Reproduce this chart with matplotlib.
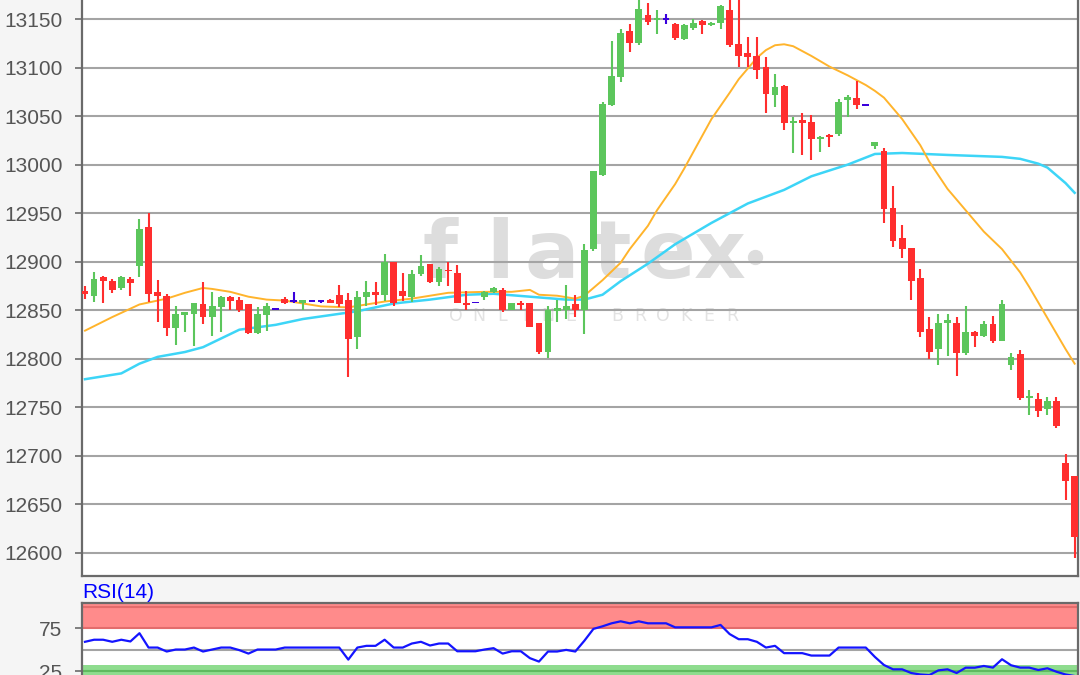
import matplotlib.pyplot as plt
import numpy as np

# candles, oldest first
opens = [12870, 12865, 12884, 12880, 12873, 12882, 12896, 12936, 12869, 12865,
         12832, 12845, 12846, 12856, 12843, 12853, 12864, 12861, 12856, 12827,
         12845, 12851, 12862, 12860, 12858, 12860, 12860, 12861, 12866, 12861,
         12822, 12864, 12869, 12866, 12900, 12870, 12864, 12887, 12898, 12879,
         12892, 12888, 12858, 12858, 12864, 12869, 12871, 12850, 12858, 12857,
         12837, 12807, 12849, 12850, 12856, 12850, 12913, 12989, 13061, 13090,
         13138, 13125, 13154, 13150, 13150, 13145, 13129, 13141, 13148, 13144,
         13146, 13159, 13124, 13115, 13112, 13101, 13072, 13081, 13043, 13046,
         13044, 13026, 13031, 13032, 13067, 13069, 13061, 13019, 13014, 12955,
         12924, 12914, 12883, 12831, 12810, 12837, 12837, 12806, 12828, 12824,
         12836, 12818, 12794, 12805, 12760, 12759, 12748, 12757, 12693, 12679]
highs = [12875, 12889, 12885, 12882, 12885, 12884, 12944, 12950, 12881, 12867,
         12854, 12848, 12857, 12879, 12869, 12865, 12865, 12864, 12856, 12853,
         12857, 12851, 12864, 12869, 12861, 12860, 12861, 12862, 12876, 12868,
         12870, 12880, 12879, 12908, 12900, 12888, 12892, 12907, 12898, 12895,
         12900, 12897, 12870, 12858, 12870, 12874, 12873, 12857, 12860, 12858,
         12837, 12854, 12861, 12876, 12866, 12918, 12993, 13065, 13127, 13140,
         13145, 13172, 13166, 13159, 13155, 13146, 13145, 13150, 13149, 13147,
         13164, 13172, 13172, 13132, 13132, 13111, 13093, 13082, 13049, 13053,
         13051, 13030, 13032, 13068, 13072, 13086, 13061, 13023, 13017, 12978,
         12938, 12914, 12893, 12843, 12846, 12846, 12843, 12854, 12829, 12839,
         12844, 12861, 12806, 12809, 12768, 12765, 12761, 12761, 12702, 12679]
lows = [12862, 12859, 12857, 12868, 12871, 12865, 12884, 12859, 12838, 12823,
        12814, 12828, 12813, 12836, 12824, 12828, 12850, 12848, 12826, 12826,
        12829, 12851, 12856, 12857, 12850, 12860, 12858, 12857, 12853, 12781,
        12810, 12854, 12855, 12860, 12854, 12860, 12859, 12885, 12878, 12875,
        12875, 12857, 12850, 12858, 12861, 12868, 12848, 12850, 12850, 12833,
        12805, 12801, 12838, 12841, 12843, 12826, 12911, 12988, 13060, 13085,
        13116, 13123, 13144, 13135, 13145, 13128, 13128, 13139, 13135, 13143,
        13140, 13121, 13101, 13101, 13088, 13053, 13059, 13036, 13012, 13010,
        13005, 13013, 13018, 13030, 13049, 13057, 13061, 13016, 12940, 12915,
        12904, 12861, 12822, 12800, 12794, 12803, 12782, 12804, 12812, 12822,
        12816, 12818, 12789, 12758, 12742, 12740, 12742, 12729, 12655, 12595]
closes = [12867, 12882, 12880, 12871, 12884, 12878, 12934, 12867, 12865, 12832,
          12846, 12848, 12857, 12843, 12854, 12864, 12860, 12850, 12827, 12846,
          12854, 12851, 12858, 12860, 12861, 12860, 12860, 12858, 12856, 12820,
          12864, 12869, 12866, 12900, 12858, 12865, 12887, 12896, 12879, 12893,
          12890, 12858, 12855, 12858, 12869, 12873, 12850, 12857, 12855, 12833,
          12807, 12850, 12852, 12854, 12850, 12912, 12993, 13062, 13091, 13136,
          13125, 13160, 13147, 13151, 13150, 13130, 13144, 13146, 13144, 13146,
          13163, 13123, 13112, 13111, 13098, 13073, 13080, 13043, 13044, 13043,
          13026, 13029, 13029, 13065, 13070, 13061, 13061, 13023, 12954, 12921,
          12913, 12880, 12828, 12807, 12837, 12840, 12806, 12828, 12823, 12836,
          12818, 12856, 12802, 12760, 12762, 12746, 12757, 12731, 12674, 12616]

# moving averages, sampled at candle positions
ma_fast_idx = [0, 3, 6, 9, 11, 13, 14, 16, 18, 20, 22, 26, 29, 33, 36, 40, 44, 47,
               49, 50, 52, 54, 55, 57, 59, 60, 62, 63, 65, 66, 68, 69, 71, 72, 74,
               75, 76, 77, 78, 80, 82, 84, 86, 87, 88, 90, 92, 93, 95, 97, 99,
               101, 103, 104, 105, 107, 108, 109]
ma_fast = [12829, 12843, 12856, 12862, 12868, 12873, 12872, 12869, 12864, 12861,
           12860, 12854, 12853, 12859, 12862, 12868, 12869, 12869, 12871, 12866,
           12865, 12862, 12865, 12881, 12899, 12913, 12937, 12953, 12980, 12996,
           13030, 13047, 13074, 13088, 13110, 13118, 13123, 13124, 13122, 13112,
           13101, 13092, 13082, 13076, 13069, 13047, 13020, 13003, 12975, 12953,
           12931, 12913, 12889, 12874, 12858, 12826, 12810, 12795]
ma_slow_idx = [0, 2, 4, 6, 8, 11, 13, 17, 21, 24, 27, 30, 34, 38, 42, 45, 49, 53,
               55, 57, 59, 62, 65, 69, 73, 77, 80, 84, 87, 90, 95, 101, 103, 105,
               106, 107, 108, 109]
ma_slow = [12779, 12782, 12785, 12795, 12802, 12807, 12812, 12830, 12835, 12841,
           12845, 12849, 12857, 12861, 12866, 12867, 12864, 12861, 12861, 12866,
           12880, 12898, 12918, 12940, 12960, 12974, 12988, 13000, 13011, 13012,
           13010, 13008, 13006, 13001, 12997, 12989, 12981, 12971]

rsi = [59, 61.4, 61.4, 59, 61.4, 59.4, 69, 52.3, 52.3, 47.7,
       50, 50, 52.3, 47.7, 50, 52.3, 52.3, 49.3, 45.3, 50,
       50, 50, 52.3, 52.3, 52.3, 52.3, 52.3, 52.3, 52.3, 38.3,
       52.3, 54.3, 54.3, 61.4, 52.3, 52.3, 57, 59, 54.7, 57,
       57, 48, 48, 48, 50, 51.6, 45.3, 48, 48, 40,
       36, 47.7, 47.7, 49.6, 47.7, 60.2, 74, 77, 80.5, 82.8,
       80.5, 82.8, 80.5, 80.5, 80.5, 75.8, 75.8, 75.8, 75.8, 75.8,
       78.6, 68, 62, 62, 59, 52.3, 54.3, 45.8, 45.8, 45.8,
       43, 43, 43, 52.3, 52.3, 52.3, 52.3, 41.4, 32, 27,
       27, 22.7, 21, 20.3, 25.8, 27, 22.7, 28.9, 28.9, 30.9,
       29, 38.7, 31.7, 29, 29, 26.2, 28.2, 24.2, 21, 19.2]

price_ticks = [12600, 12650, 12700, 12750, 12800, 12850, 12900, 12950, 13000,
               13050, 13100, 13150]
rsi_ticks = [25, 75]

UP = '#5cc65c'
DOWN = '#ff2e2e'
FLAT = '#3a00dc'
AXIS = '#6a6a6a'
GRID = '#a4a4a4'

plt.rcParams['font.family'] = ['Liberation Sans', 'DejaVu Sans']

W, H = 1080, 675
fig = plt.figure(figsize=(W / 100, H / 100), dpi=100, facecolor='#f5f5f5')
ax = fig.add_axes([82 / W, 1 - 576 / H, 996 / W, 576 / H])
rx = fig.add_axes([82 / W, 0, 996 / W, 1 - 603 / H])

x = np.arange(len(opens))
o, h, l, c = map(np.array, (opens, highs, lows, closes))
col = np.where(c > o, UP, np.where(c < o, DOWN, FLAT))

# watermark
for ch, px in zip('flatex', [440, 500, 552, 612, 668, 720]):
    ax.text((px - 82) / 996, 1 - 278 / 576, ch, transform=ax.transAxes,
            ha='center', va='baseline', fontsize=58, color='#dddddd',
            family='DejaVu Sans', fontweight='bold', zorder=1)
ax.plot([(755 - 82) / 996], [1 - 257 / 576], 'o', ms=10, color='#dddddd',
        transform=ax.transAxes, zorder=1)
for i, ch in enumerate('ONLINE BROKER'):
    ax.text((456 - 82) / 996 + i * 0.0231, 1 - 316 / 576, ch,
            transform=ax.transAxes, ha='center', va='center', fontsize=12.5,
            color='#e2e2e2', family='DejaVu Sans', zorder=1)

ax.plot(ma_slow_idx, ma_slow, color='#3dd5f7', lw=1.8, zorder=2.5)
ax.plot(ma_fast_idx, ma_fast, color='#ffb42c', lw=1.4, zorder=2.5)

ax.vlines(x, l, h, colors=col, lw=1.5, zorder=3)
body = np.abs(c - o)
shown = np.maximum(body, 2.0)
ax.bar(x, shown, 0.75, bottom=np.minimum(o, c) - (shown - body) / 2,
       color=col, zorder=3)

ax.set_xlim(-0.33, 109.37)
ax.set_ylim(12576.3, 13169.6)
ax.set_yticks(price_ticks)
ax.set_xticks([])
ax.grid(axis='y', color=GRID, lw=1.5)
ax.set_facecolor('white')
ax.spines['top'].set_visible(False)
for s in ('left', 'right', 'bottom'):
    ax.spines[s].set_color(AXIS)
    ax.spines[s].set_linewidth(1.6)
ax.tick_params(axis='y', length=5, width=1.2, color=AXIS, labelsize=15,
               labelcolor='#555555', pad=9)

# RSI panel
rx.axhline(50, color=GRID, lw=1.5, zorder=1)
rx.axhspan(75, 110, color='#ff8b8b', lw=0, zorder=1)
rx.axhline(75, color='#e36c6c', lw=1.5, zorder=1.2)
rx.axhline(100, color='#e36c6c', lw=1.5, zorder=1.2)
rx.axhspan(0, 32, color='#8edc8e', lw=0, zorder=1)
rx.axhline(25, color='#5fba5f', lw=1.5, zorder=1.2)
rx.plot(x, rsi, color='#1414ff', lw=1.6, zorder=3)
rx.set_xlim(-0.33, 109.37)
rx.set_ylim(20.4, 104.1)
rx.set_yticks(rsi_ticks)
rx.set_xticks([])
rx.set_facecolor('white')
rx.spines['bottom'].set_visible(False)
for s in ('left', 'right', 'top'):
    rx.spines[s].set_color(AXIS)
    rx.spines[s].set_linewidth(1.6)
rx.tick_params(axis='y', length=5, width=1.2, color=AXIS, labelsize=15,
               labelcolor='#555555', pad=9)

fig.text(82 / W, 1 - 592 / H, 'RSI(14)', color='#0000ff', fontsize=15,
         ha='left', va='center')

fig.savefig('out.png', dpi=100, facecolor=fig.get_facecolor())
